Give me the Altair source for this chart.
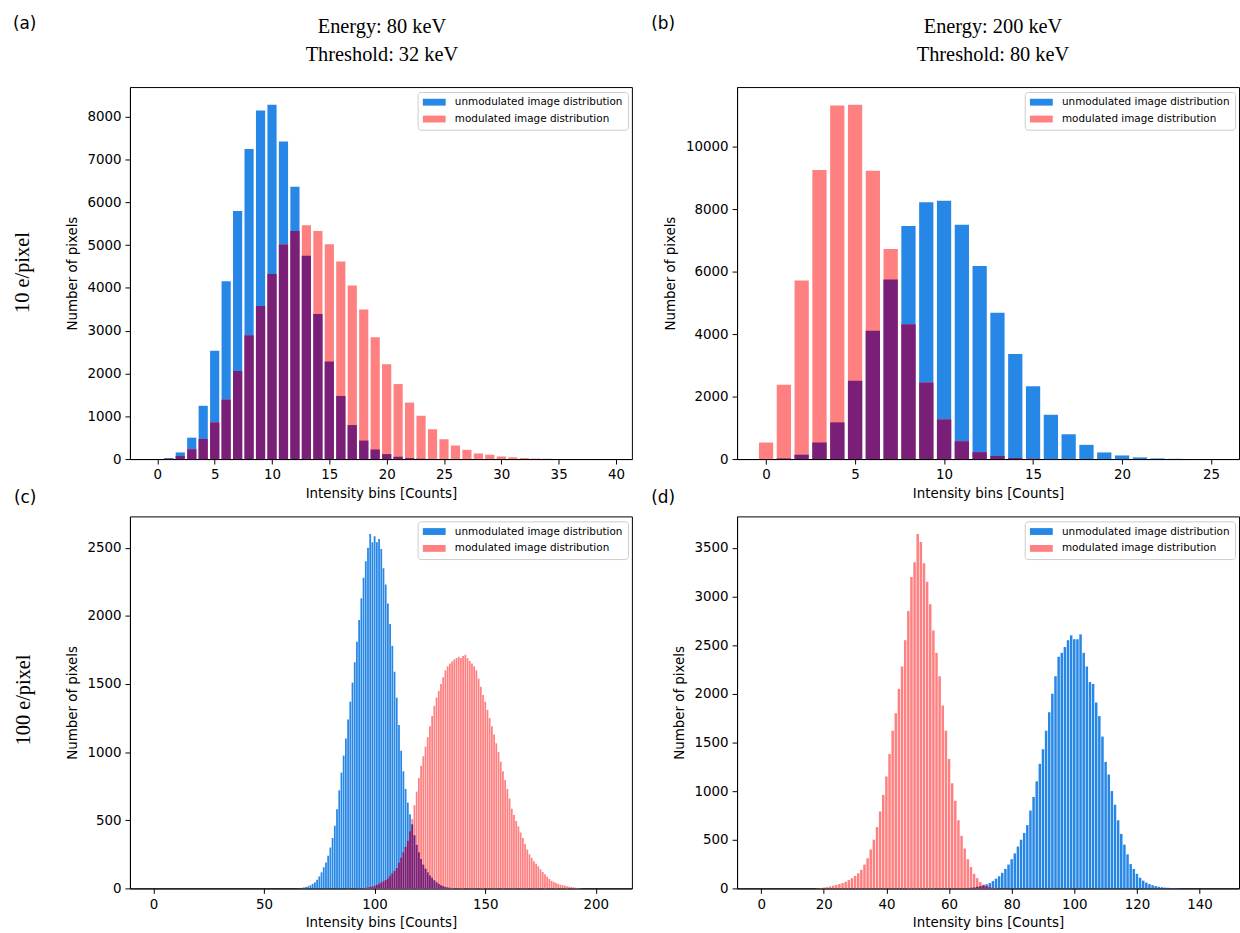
import altair as alt
import pandas as pd

SERIES = ["unmodulated image distribution", "modulated image distribution"]
BLUE = "#2787e6"
PINK = "#ff8080"
OVERLAP = "#7a1f78"
SANS = "DejaVu Sans"
SERIF = "Liberation Serif"

# (a) Energy 80 keV, threshold 32 keV, 10 e/pixel
A_UNMOD_START = 0
A_UNMOD = [0, 25, 155, 500, 1245, 2530, 4155, 5800, 7245, 8147, 8280, 7420, 6363,
           4750, 3390, 2278, 1475, 795, 432, 224, 116, 54, 23, 8, 3, 1]
A_MOD_START = 0
A_MOD = [0, 10, 70, 230, 470, 857, 1390, 2060, 2895, 3575, 4324, 5012, 5328, 5467,
         5328, 5019, 4618, 4054, 3498, 2849, 2216, 1753, 1320, 1012, 695, 463, 317,
         216, 131, 100, 62, 39, 23, 12, 6, 3, 2, 1, 0, 0]

# (b) Energy 200 keV, threshold 80 keV, 10 e/pixel
B_UNMOD_START = 0
B_UNMOD = [0, 20, 140, 530, 1175, 2508, 4106, 5746, 7460, 8222, 8275, 7503, 6180,
           4688, 3365, 2328, 1418, 794, 455, 212, 116, 53, 21, 8, 3]
B_MOD_START = 0
B_MOD = [529, 2381, 5714, 9259, 11323, 11344, 9228, 6730, 4317, 2455, 1270, 571,
         222, 95, 32, 10, 3]

# (c) Energy 80 keV, threshold 32 keV, 100 e/pixel
C_UNMOD_START = 66
C_UNMOD = [2, 4, 7, 11, 16, 23, 33, 46, 64, 88, 118, 155, 190, 240, 300, 370, 460,
           580, 720, 850, 975, 1100, 1240, 1370, 1510, 1660, 1810, 1970, 2130, 2280,
           2400, 2500, 2600, 2540, 2585, 2540, 2565, 2490, 2350, 2230, 2090, 1940,
           1780, 1590, 1400, 1200, 1010, 860, 730, 630, 545, 470, 390, 320, 265, 215,
           175, 145, 118, 95, 78, 60, 45, 33, 24, 17, 11, 7, 4, 2]
C_MOD_START = 95
C_MOD = [3, 5, 7, 10, 14, 20, 26, 34, 43, 52, 62, 75, 92, 110, 128, 150, 190, 225,
         265, 305, 350, 420, 510, 610, 710, 810, 900, 970, 1040, 1110, 1190, 1265,
         1340, 1400, 1450, 1500, 1550, 1600, 1630, 1650, 1665, 1680, 1690, 1700,
         1690, 1705, 1715, 1690, 1670, 1650, 1630, 1600, 1540, 1480, 1420, 1370,
         1310, 1250, 1190, 1130, 1065, 1000, 930, 860, 795, 730, 660, 585, 540, 495,
         455, 410, 370, 325, 285, 250, 225, 200, 180, 162, 140, 120, 104, 86, 70, 56,
         48, 40, 33, 28, 24, 20, 16, 13, 10, 7, 5, 3, 2]

# (d) Energy 200 keV, threshold 80 keV, 100 e/pixel
D_UNMOD_START = 66
D_UNMOD = [3, 6, 10, 16, 23, 30, 42, 55, 75, 100, 125, 160, 200, 245, 300, 360, 430,
           500, 570, 650, 800, 940, 1100, 1280, 1430, 1620, 1810, 2000, 2180, 2380,
           2420, 2480, 2550, 2600, 2560, 2560, 2610, 2420, 2280, 2120, 2100, 1910,
           1770, 1560, 1300, 1170, 1000, 860, 700, 560, 450, 350, 250, 200, 150, 110,
           80, 60, 45, 33, 24, 17, 12, 8, 6, 4, 3, 2]
D_MOD_START = 18
D_MOD = [2, 4, 8, 13, 20, 28, 36, 45, 55, 68, 85, 105, 128, 155, 190, 245, 310, 400,
         500, 630, 790, 960, 1150, 1380, 1620, 1800, 2050, 2280, 2550, 2850, 3200,
         3350, 3640, 3560, 3340, 3150, 2920, 2650, 2420, 2180, 1880, 1620, 1330, 1080,
         900, 700, 540, 410, 300, 220, 150, 105, 65, 40, 22, 12, 6, 3]

W, H = 506, 375


def hist_frame(u_start, u_vals, m_start, m_vals):
    lo = min(u_start, m_start)
    hi = max(u_start + len(u_vals), m_start + len(m_vals))
    rows = []
    for b in range(lo, hi):
        iu, im = b - u_start, b - m_start
        u = u_vals[iu] if 0 <= iu < len(u_vals) else 0
        m = m_vals[im] if 0 <= im < len(m_vals) else 0
        rows.append({"bin": b, "u": u, "m": m})
    return pd.DataFrame(rows)


def text(s, x, y, size, font, align="left", angle=0):
    return alt.Chart(pd.DataFrame({"t": [s]})).mark_text(
        align=align, baseline="middle", font=font, fontSize=size, angle=angle,
        color="black"
    ).encode(x=alt.value(x), y=alt.value(y), text="t:N")


def panel(df, xdom, xticks, yticks, extras):
    ymax = max(df["u"].max(), df["m"].max()) * 1.05
    base = alt.Chart(df).transform_calculate(lo="datum.bin - 0.4", hi="datum.bin + 0.4")
    xenc = alt.X("lo:Q", scale=alt.Scale(domain=xdom, nice=False, zero=False),
                 axis=alt.Axis(values=xticks, format="d", title="Intensity bins [Counts]"))
    yscale = alt.Scale(domain=[0, ymax], nice=False)
    yaxis = alt.Axis(values=yticks, format="d", title="Number of pixels")
    cenc = alt.Color("s:N", scale=alt.Scale(domain=SERIES, range=[BLUE, PINK]),
                     legend=alt.Legend(title=None, orient="top-right"))
    blue = base.transform_calculate(s="'%s'" % SERIES[0]).mark_rect().encode(
        x=xenc, x2="hi:Q", y=alt.Y("u:Q", scale=yscale, axis=yaxis),
        y2=alt.datum(0), color=cenc)
    pink = base.transform_calculate(s="'%s'" % SERIES[1]).mark_rect().encode(
        x="lo:Q", x2="hi:Q", y="m:Q", y2=alt.datum(0), color=cenc)
    both = base.transform_calculate(o="min(datum.u, datum.m)").mark_rect(color=OVERLAP).encode(
        x="lo:Q", x2="hi:Q", y="o:Q", y2=alt.datum(0))
    return alt.layer(blue, pink, both, *extras).properties(width=W, height=H)


# invisible corner marker that fixes the page origin
corner = alt.Chart(pd.DataFrame({"k": [0]})).mark_rule(color="white", strokeWidth=1).encode(
    x=alt.value(-129.5), x2=alt.value(-125), y=alt.value(-82.2), y2=alt.value(-82.2))

pa = panel(
    hist_frame(A_UNMOD_START, A_UNMOD, A_MOD_START, A_MOD), [-2.39, 41.39],
    list(range(0, 41, 5)), list(range(0, 8001, 1000)),
    [corner,
     text("(a)", -118, -63.5, 17, SANS),
     text("Energy: 80 keV", 254, -61, 20.5, SERIF, align="center"),
     text("Threshold: 32 keV", 254, -32, 20.5, SERIF, align="center"),
     text("10 e/pixel", -108, 187, 20.5, SERIF, align="center", angle=270)])

pb = panel(
    hist_frame(B_UNMOD_START, B_UNMOD, B_MOD_START, B_MOD), [-1.63, 26.57],
    list(range(0, 26, 5)), list(range(0, 10001, 2000)),
    [text("(b)", -86.5, -63.5, 17, SANS),
     text("Energy: 200 keV", 258, -61, 20.5, SERIF, align="center"),
     text("Threshold: 80 keV", 258, -32, 20.5, SERIF, align="center")])

pc = panel(
    hist_frame(C_UNMOD_START, C_UNMOD, C_MOD_START, C_MOD), [-10.6, 216.3],
    list(range(0, 201, 50)), list(range(0, 2501, 500)),
    [text("(c)", -117, -18.5, 17, SANS),
     text("100 e/pixel", -107, 185, 20.5, SERIF, align="center", angle=270)])

pd_ = panel(
    hist_frame(D_UNMOD_START, D_UNMOD, D_MOD_START, D_MOD), [-7.69, 152.6],
    list(range(0, 141, 20)), list(range(0, 3501, 500)),
    [text("(d)", -86.5, -18.5, 17, SANS)])

chart = alt.concat(
    pa, pb, pc, pd_, columns=2, bounds="flush",
    spacing={"row": 57.8, "column": 106}
).resolve_scale(color="independent").properties(
    padding=0
).configure_view(
    stroke="black", strokeWidth=1
).configure_axis(
    grid=False, domainColor="black", domainWidth=1, tickColor="black", tickSize=5,
    labelFont=SANS, labelFontSize=13.5, labelColor="black", labelPadding=4,
    labelFlush=False, labelOverlap=False,
    titleFont=SANS, titleFontSize=13.5, titleFontWeight="normal", titleColor="black"
).configure_axisX(
    titlePadding=5
).configure_axisY(
    titlePadding=8
).configure_legend(
    labelFont=SANS, labelFontSize=10.5, labelColor="black", labelLimit=300,
    symbolType="M-1,-0.69H3.6V0.69H-1Z", symbolSize=100, symbolStrokeWidth=0,
    symbolOpacity=1, labelOffset=22, rowPadding=6, padding=5, offset=4.5,
    strokeColor="#cccccc", fillColor="white", cornerRadius=3
)

chart.save("out.html", embed_options={"renderer": "svg", "actions": False})
